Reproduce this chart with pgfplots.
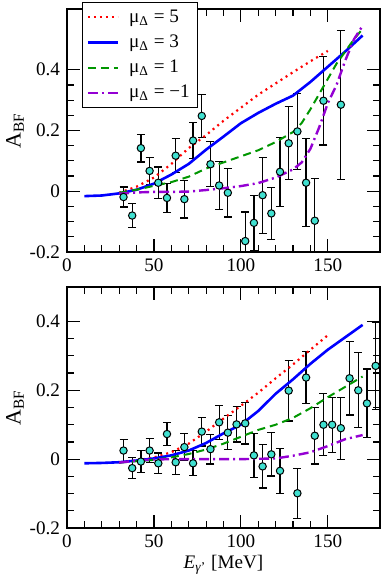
\documentclass[border=0pt]{standalone}
\usepackage{fontspec}
\setmainfont{Liberation Serif}
\usepackage{pgfplots}
\usepackage{pgfplotstable}
\pgfplotsset{compat=1.18}

\definecolor{pt}{RGB}{64,224,208}
\definecolor{grn}{RGB}{0,150,0}
\definecolor{vio}{RGB}{148,0,211}

% data points: E, A, error
\pgfplotstableread{
x y e
32.5 -0.019 0.033
37.5 -0.080 0.040
42.5 0.142 0.046
47.5 0.067 0.044
52.5 0.028 0.052
57.5 -0.022 0.047
62.5 0.117 0.056
67.5 -0.026 0.062
72.5 0.167 0.060
77.5 0.248 0.070
82.5 0.089 0.074
87.5 0.019 0.080
92.5 -0.005 0.080
102.5 -0.164 0.096
107.5 -0.104 0.090
112.5 -0.013 0.125
117.5 -0.073 0.085
122.5 0.064 0.113
127.5 0.158 0.120
132.5 0.197 0.125
137.5 0.028 0.145
142.5 -0.097 0.140
147.5 0.298 0.146
157.5 0.285 0.245
}\topdata

\pgfplotstableread{
x y e
32.5 0.025 0.033
37.5 -0.026 0.030
42.5 -0.007 0.032
47.5 0.025 0.034
52.5 -0.012 0.030
57.5 0.073 0.033
62.5 -0.009 0.035
67.5 0.035 0.039
72.5 -0.012 0.036
77.5 0.080 0.042
82.5 0.029 0.043
87.5 0.107 0.050
92.5 0.077 0.050
97.5 0.101 0.051
102.5 0.104 0.060
107.5 0.011 0.064
112.5 -0.021 0.063
117.5 0.014 0.063
122.5 -0.034 0.066
127.5 0.199 0.088
132.5 -0.099 0.073
137.5 0.237 0.075
142.5 0.068 0.082
147.5 0.100 0.090
152.5 0.100 0.080
157.5 0.090 0.090
162.5 0.235 0.107
167.5 0.200 0.109
172.5 0.162 0.100
177.5 0.271 0.126
}\botdata

\pgfplotsset{
  panel/.style={
    scale only axis, width=156.5bp,
    xmin=0, xmax=180,
    xtick={0,50,100,150}, xticklabels={0,50,100,150},
    minor x tick num=4, minor y tick num=3,
    ymin=-0.2,
    tick align=inside,
    major tick length=6.5bp, minor tick length=3.5bp,
    axis line style={line width=0.6bp},
    every tick/.style={black, line width=0.6bp},
    font=\fontsize{9.6}{11}\selectfont,
    ylabel={A\textsubscript{BF}},
    ylabel style={font=\fontsize{11}{12}\selectfont, yshift=-4bp},
    clip=true,
  },
  pts/.style={
    only marks, forget plot,
    mark=*, mark size=1.85bp,
    mark options={fill=pt, draw=black, line width=0.5bp},
    error bars/.cd, y dir=both, y explicit,
    error bar style={black, line width=0.6bp},
    error mark options={rotate=90, mark size=2bp, line width=0.6bp, black},
  },
  c5/.style={red, line width=1.1bp, dash pattern=on 1bp off 2bp},
  c3/.style={blue, line width=1.3bp},
  c1/.style={grn, line width=1bp, dash pattern=on 4bp off 2.5bp},
  cm/.style={vio, line width=1.2bp, dash pattern=on 5bp off 2bp on 1bp off 2bp},
}

\begin{document}
\begin{tikzpicture}
\begin{axis}[panel,
  at={(33.5bp,-126bp)}, anchor=south west,
  height=121.5bp, ymax=0.6,
  ytick={-0.2,0,0.2,0.4}, yticklabels={-0.2,0,0.2,0.4},
  legend style={at={(0.048,1.029)}, anchor=north west,
    draw=black, line width=0.6bp, fill=white,
    font=\fontsize{9.6}{11}\selectfont,
    inner xsep=2bp, inner ysep=1.5bp, row sep=0.8bp},
  legend cell align=left,
  legend image code/.code={\draw[#1] (0bp,0bp) -- (15bp,0bp); \path (18bp,0bp);},
]
\addplot[pts] table[x=x, y=y, y error=e] {\topdata};
\addplot[c5] coordinates {(30,-0.005) (40,0.015) (50,0.045) (60,0.09) (70,0.142) (80,0.185) (90,0.232) (100,0.275) (110,0.318) (120,0.355) (130,0.392) (140,0.428) (150,0.462)};
\addlegendentry{μ\textsubscript{Δ} = 5}
\addplot[c3] coordinates {(10,-0.016) (20,-0.014) (30,-0.007) (40,0.005) (50,0.025) (60,0.055) (70,0.09) (80,0.137) (90,0.18) (100,0.224) (110,0.258) (120,0.288) (130,0.315) (140,0.36) (150,0.41) (160,0.46) (170,0.513)};
\addlegendentry{μ\textsubscript{Δ} = 3}
\addplot[c1] coordinates {(30,-0.005) (40,0.005) (50,0.018) (60,0.03) (70,0.048) (80,0.075) (90,0.095) (100,0.115) (110,0.135) (120,0.162) (130,0.195) (135,0.225) (140,0.27) (145,0.32) (150,0.37) (155,0.42) (160,0.46) (165,0.5) (170,0.535)};
\addlegendentry{μ\textsubscript{Δ} = 1}
\addplot[cm] coordinates {(30,-0.008) (40,-0.004) (50,-0.002) (60,-0.002) (70,-0.001) (80,0.004) (90,0.01) (100,0.017) (110,0.027) (120,0.045) (130,0.072) (135,0.095) (140,0.14) (145,0.21) (150,0.29) (155,0.35) (160,0.43) (165,0.5) (170,0.545)};
\addlegendentry{μ\textsubscript{Δ} = −1}
\end{axis}

\begin{axis}[panel,
  at={(33.5bp,-264bp)}, anchor=south west,
  height=120.5bp, ymax=0.5,
  ytick={-0.2,0,0.2,0.4}, yticklabels={-0.2,0,0.2,0.4},
  xlabel={\textit{E}\textsubscript{\textit{γ}'} [MeV]},
  xlabel style={yshift=3bp},
]
\addplot[pts] table[x=x, y=y, y error=e] {\botdata};
\addplot[c5] coordinates {(30,-0.01) (40,-0.004) (50,0.005) (60,0.02) (70,0.045) (80,0.08) (90,0.118) (100,0.155) (110,0.193) (120,0.235) (130,0.275) (140,0.318) (150,0.36)};
\addplot[c3] coordinates {(10,-0.012) (20,-0.011) (30,-0.009) (40,-0.004) (50,0.002) (60,0.011) (70,0.025) (80,0.047) (90,0.075) (100,0.1) (110,0.14) (120,0.19) (130,0.232) (140,0.277) (150,0.318) (160,0.354) (170,0.39)};
\addplot[c1] coordinates {(30,-0.01) (40,-0.006) (50,-0.002) (60,0.005) (70,0.015) (80,0.028) (90,0.045) (100,0.065) (110,0.085) (120,0.1) (130,0.12) (140,0.148) (150,0.18) (160,0.21) (170,0.24)};
\addplot[cm] coordinates {(30,-0.01) (40,-0.004) (50,-0.001) (60,0) (80,0) (100,0) (120,0.002) (130,0.01) (140,0.02) (150,0.038) (160,0.058) (170,0.07)};
\end{axis}

\pgfresetboundingbox
\useasboundingbox (0,0) rectangle (191bp,-290bp);
\end{tikzpicture}
\end{document}
